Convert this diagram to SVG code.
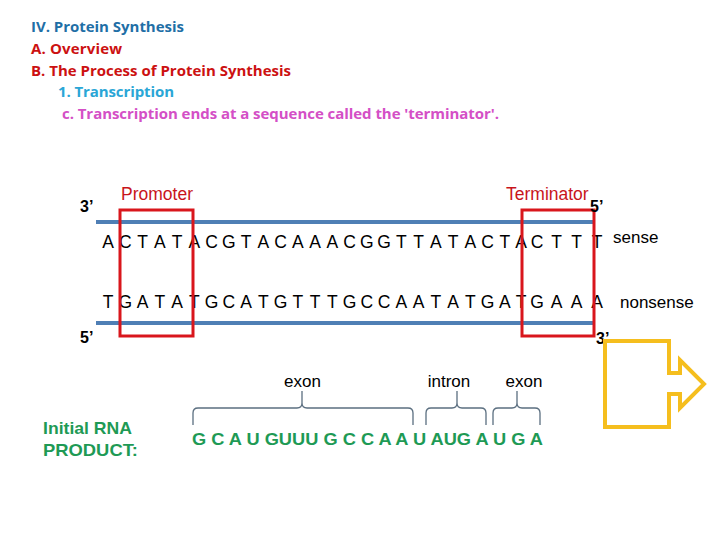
<svg xmlns="http://www.w3.org/2000/svg" width="720" height="540" viewBox="0 0 720 540">
<style>
.h{font-family:"Open Sans","Liberation Sans",sans-serif;font-weight:bold;font-size:15px}
.seq{font-family:"Liberation Sans",Arial,sans-serif;font-size:17.5px;fill:#000}
.lbl{font-family:"Liberation Sans",Arial,sans-serif;font-size:17px;fill:#000}
.end{font-family:"Liberation Sans",Arial,sans-serif;font-size:16px;font-weight:bold;fill:#000}
.red{font-family:"Liberation Sans",Arial,sans-serif;font-size:17.5px;fill:#c8141b}
.grn{font-family:"Liberation Sans",Arial,sans-serif;font-size:17px;font-weight:bold;fill:#1e9a55}
.dna{stroke:#4f7fb5;stroke-width:4;fill:none}
.box{stroke:#d9161c;stroke-width:3;fill:none}
.brace{stroke:#5b6f80;stroke-width:1.3;fill:none}
</style>
<rect width="720" height="540" fill="#fff"/>
<g id="titles">
<text class="h" x="31" y="32" fill="#1f6fa6" textLength="153">IV. Protein Synthesis</text>
<text class="h" x="31" y="54" fill="#cc1111" textLength="91">A. Overview</text>
<text class="h" x="31" y="76" fill="#cc1111" textLength="260">B. The Process of Protein Synthesis</text>
<text class="h" x="58" y="97" fill="#2aa6d6" textLength="116">1. Transcription</text>
<text class="h" x="62" y="119" fill="#d44fc6" textLength="437">c. Transcription ends at a sequence called the 'terminator'.</text>
</g>
<g id="dna-strands">
<line class="dna" x1="96" y1="222" x2="593" y2="222"/>
<line class="dna" x1="96" y1="323" x2="593" y2="323"/>
</g>
<g id="sense-strand">
<text class="seq" y="248" text-anchor="middle" x="108 125.25 142.5 159.75 177 194.25 211.5 228.75 246 263.25 280.5 297.75 315 332.25 349.5 366.75 384 401.25 418.5 435.75 453 470.25 487.5 504.75 521 537 556.5 576.5 597">ACTATACGTACAAACGGTTATACTACTTT</text>
<text class="lbl" x="613" y="243">sense</text>
</g>
<g id="nonsense-strand">
<text class="seq" y="308" text-anchor="middle" x="108 125.25 142.5 159.75 177 194.25 211.5 228.75 246 263.25 280.5 297.75 315 332.25 349.5 366.75 384 401.25 418.5 435.75 453 470.25 487.5 504.75 521 537 556.5 576.5 597">TGATATGCATGTTTGCCAATATGATGAAA</text>
<text class="lbl" x="620" y="308">nonsense</text>
</g>
<g id="promoter">
<rect class="box" x="120" y="210" width="73" height="126"/>
<text class="red" x="121" y="200">Promoter</text>
</g>
<g id="terminator">
<rect class="box" x="522" y="210" width="72" height="126"/>
<text class="red" x="506" y="200">Terminator</text>
</g>
<g id="ends">
<text class="end" x="80" y="212">3’</text>
<text class="end" x="590" y="212">5’</text>
<text class="end" x="80" y="343">5’</text>
<text class="end" x="596" y="344">3’</text>
</g>
<g id="connectors">
<path class="brace" d="M193,425 V413 Q193,408 198,408 H297 Q302,408 302,403 V391 M302,403 Q302,408 307,408 H408 Q413,408 413,413 V425"/>
<path class="brace" d="M426,425 V413 Q426,408 431,408 H452 Q457,408 457,403 V391 M457,403 Q457,408 462,408 H481 Q486,408 486,413 V425"/>
<path class="brace" d="M493,425 V413 Q493,408 498,408 H512 Q517,408 517,403 V391 M517,403 Q517,408 522,408 H535 Q540,408 540,413 V425"/>
</g>
<g id="labels">
<text class="lbl" x="302.5" y="387" text-anchor="middle">exon</text>
<text class="lbl" x="449" y="387" text-anchor="middle">intron</text>
<text class="lbl" x="524" y="387" text-anchor="middle">exon</text>
</g>
<g id="rna">
<text class="grn" x="43" y="434" textLength="89" lengthAdjust="spacingAndGlyphs">Initial RNA</text>
<text class="grn" x="43" y="456" textLength="95" lengthAdjust="spacingAndGlyphs">PRODUCT:</text>
<text class="grn" x="192" y="445" textLength="351" lengthAdjust="spacingAndGlyphs">G C A U GUUU G C C A A U AUG A U G A</text>
</g>
<g id="arrow-shape">
<path d="M605,341 H669 V373 H680 V360 L704,384 L680,408 V394 H669 V427 H605 Z" fill="none" stroke="#f5be1e" stroke-width="4" stroke-linejoin="miter"/>
</g>
</svg>
